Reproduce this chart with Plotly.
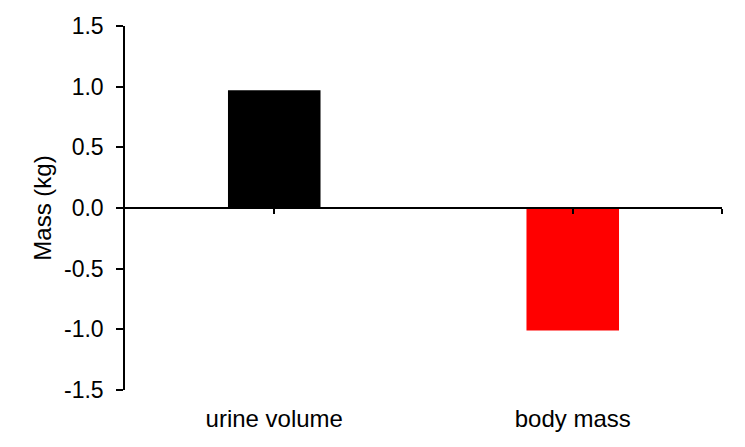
import plotly.graph_objects as go

categories = ["urine volume", "body mass"]
values = [0.97, -1.01]
colors = ["#000000", "#FF0000"]
y_ticks = [-1.5, -1.0, -0.5, 0.0, 0.5, 1.0, 1.5]
y_ticklabels = ["-1.5", "-1.0", "-0.5", "0.0", "0.5", "1.0", "1.5"]

positions = list(range(len(categories)))

fig = go.Figure()
fig.add_trace(go.Bar(
    x=positions, y=values, marker=dict(color=colors, line=dict(width=0)),
    width=0.31, xaxis="x", yaxis="y", showlegend=False, hoverinfo="skip",
))
# invisible trace on the middle (zero) axis so it renders
fig.add_trace(go.Scatter(
    x=positions, y=[0, 0], mode="markers", marker=dict(opacity=0),
    xaxis="x2", yaxis="y", showlegend=False, hoverinfo="skip",
))

fam = "Liberation Sans, Arial, sans-serif"
tick_font = dict(family=fam, size=23, color="#000000")
label_font = dict(family=fam, size=24, color="#000000")

fig.update_layout(
    width=745, height=447,
    margin=dict(l=117, r=31, t=18, b=65, autoexpand=False),
    paper_bgcolor="white", plot_bgcolor="white",
    font=tick_font,
    xaxis=dict(
        range=[-0.5, len(categories) - 0.5], automargin=False,
        tickmode="array", tickvals=positions, ticktext=categories,
        showline=False, ticks="", showgrid=False, zeroline=False,
        tickfont=label_font, ticklabelstandoff=12,
    ),
    xaxis2=dict(
        overlaying="x", matches="x", anchor="free", position=0.5,
        range=[-0.5, len(categories) - 0.5], automargin=False,
        tickmode="array", tickvals=positions + [len(categories) - 0.5],
        ticks="outside", ticklen=5, tickwidth=1.5, tickcolor="black",
        showticklabels=False, showline=True, linecolor="black", linewidth=1.5,
        showgrid=False, zeroline=False,
    ),
    yaxis=dict(
        range=[-1.5, 1.5], automargin=False,
        tickmode="array", tickvals=y_ticks, ticktext=y_ticklabels,
        ticks="outside", ticklen=7, tickwidth=1.5, tickcolor="black",
        showline=True, linecolor="black", linewidth=1.5,
        showgrid=False, zeroline=False,
        tickfont=tick_font, ticklabelstandoff=8,
        title=dict(text="Mass (kg)", font=label_font, standoff=6),
    ),
)

fig.write_html("out.html")
